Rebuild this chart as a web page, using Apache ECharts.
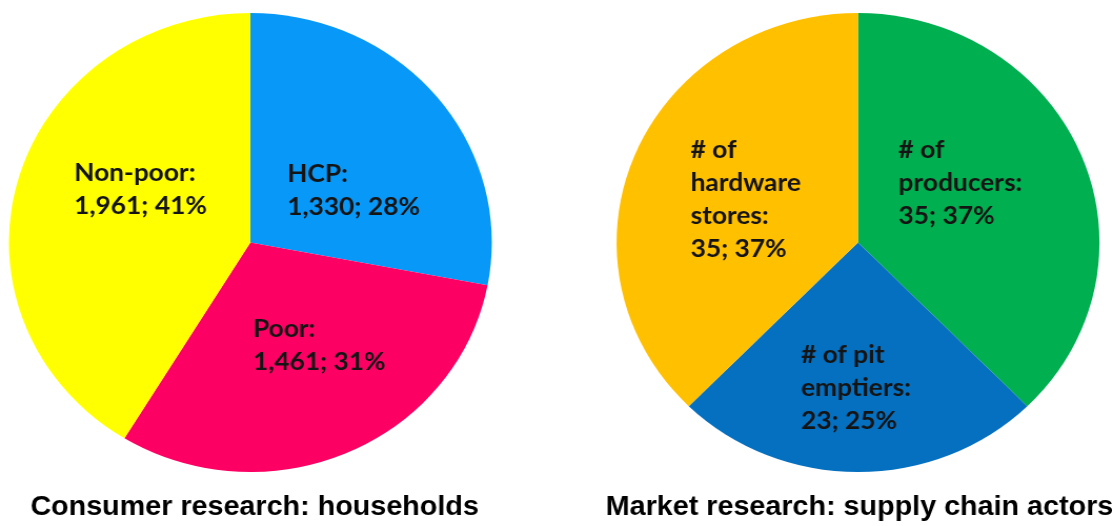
<!DOCTYPE html>
<html>
<head>
<meta charset="utf-8">
<title>Consumer and market research</title>
<script src="https://cdn.jsdelivr.net/npm/echarts@6/dist/echarts.min.js"></script>
<style>
  html, body { margin: 0; padding: 0; background: #ffffff; }
  #frame { width: 1113px; height: 526px; overflow: hidden; position: relative; }
  /* the whole figure is a little wider than tall, so the canvas is stretched horizontally */
  #chart { width: 1058px; height: 526px; transform: scaleX(1.052); transform-origin: 0 0; }
</style>
</head>
<body>
<div id="frame"><div id="chart"></div></div>
<script>
// Households reached by the consumer research
const householdGroups = ['HCP', 'Poor', 'Non-poor'];
const householdCounts = [1330, 1461, 1961];
const householdShares = [28, 31, 41];

// Supply chain actors covered by the market research
const actorGroups = ['# of\nproducers', '# of pit\nemptiers', '# of\nhardware\nstores'];
const actorCounts = [35, 23, 35];
const actorShares = [37, 25, 37];

const panelTitles = ['Consumer research: households', 'Market research: supply chain actors'];

// ---- styling ----
const householdColors = ['#0899F8', '#FD0064', '#FFFF00'];
const actorColors = ['#00AF50', '#0570C0', '#FFC000'];
const pieRadius = 229.5;
const pieCenters = [[238, 242.5], [815.6, 242.5]];
// top-left corner of each label block, measured from its pie centre
const labelSpots = [
  [[35, -85.5], [2.4, 70], [-167.5, -86]],
  [[38.5, -109.5], [-54.2, 96], [-159.1, -109.5]]
];

const labelFont = {
  fontFamily: 'Lato, "Open Sans", sans-serif',
  fontWeight: 'bold',
  fontSize: 25,
  lineHeight: 33,
  color: '#141414'
};

function buildData(names, counts, colors) {
  return names.map((n, i) => ({ name: n, value: counts[i], itemStyle: { color: colors[i] } }));
}

function makeFormatter(shares) {
  return function (p) {
    return p.name + ':\n' + p.value.toLocaleString('en-US') + '; ' + shares[p.dataIndex] + '%';
  };
}

function pieSeries(idx, names, counts, colors, shares) {
  return {
    type: 'pie',
    center: pieCenters[idx],
    radius: pieRadius,
    startAngle: 90,
    clockwise: true,
    silent: true,
    animation: false,
    data: buildData(names, counts, colors),
    itemStyle: { borderWidth: 0 },
    label: Object.assign({
      show: true,
      position: 'inside',
      align: 'left',
      formatter: makeFormatter(shares)
    }, labelFont),
    labelLine: { show: false },
    emphasis: { disabled: true },
    labelLayout: function (params) {
      const c = pieCenters[idx];
      const s = labelSpots[idx][params.dataIndex];
      return { x: c[0] + s[0], y: c[1] + s[1], align: 'left', verticalAlign: 'top' };
    }
  };
}

const titleStyle = {
  fontFamily: '"Liberation Sans", Arial, sans-serif',
  fontWeight: 'bold',
  fontSize: 27.3,
  color: '#000000'
};

const chart = echarts.init(document.getElementById('chart'), null, { renderer: 'canvas' });
chart.setOption({
  backgroundColor: '#ffffff',
  animation: false,
  title: [
    { text: panelTitles[0], left: 242, top: 494, textAlign: 'center', padding: 0, textStyle: titleStyle },
    { text: panelTitles[1], left: 817, top: 494, textAlign: 'center', padding: 0, textStyle: titleStyle }
  ],
  series: [
    pieSeries(0, householdGroups, householdCounts, householdColors, householdShares),
    pieSeries(1, actorGroups, actorCounts, actorColors, actorShares)
  ]
});
</script>
</body>
</html>
